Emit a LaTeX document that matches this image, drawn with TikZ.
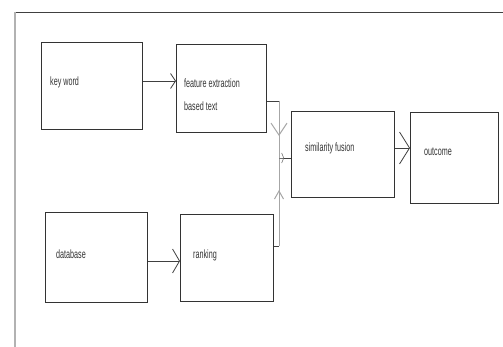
\documentclass[tikz,border=0pt]{standalone}
\usepackage{fontspec}
\setmainfont{Liberation Sans}[FakeStretch=0.6]
\usetikzlibrary{arrows.meta}
\begin{document}
\begin{tikzpicture}[x=1pt,y=-1pt,
  box/.style={draw=black!80, line width=0.8pt, inner sep=0pt, anchor=north west},
  lbl/.style={anchor=west, inner sep=0pt, text=black!80, font=\fontsize{12}{14}\selectfont},
  conn/.style={draw=black!75, line width=0.8pt},
  vbar/.style={draw=black!35, line width=1pt},
  barb/.style={draw=black!55, line width=0.6pt}]
\useasboundingbox (0,0) rectangle (503,347);
% frame
\draw[black!75, line width=0.8pt] (15,12) -- (503,12);
\draw[black!30, line width=1.2pt] (15,12) -- (15,347);
% boxes
\node[box, minimum width=101pt, minimum height=87pt] (kw) at (41,42) {};
\node[box, minimum width=90pt,  minimum height=88pt] (fe) at (176,44) {};
\node[box, minimum width=103pt, minimum height=86pt] (sf) at (291,111) {};
\node[box, minimum width=88pt,  minimum height=91pt] (oc) at (410,112) {};
\node[box, minimum width=102pt, minimum height=90pt] (db) at (45,212) {};
\node[box, minimum width=93pt,  minimum height=87pt] (rk) at (180,214) {};
% labels
\node[lbl] (kwt) at (50,82) {key word};
\node[lbl] (fet1) at (184,83) {feature extraction};
\node[lbl] (fet2) at (184,106) {based text};
\node[lbl] (sft) at (305,148) {similarity fusion};
\node[lbl] (oct) at (424,152) {outcome};
\node[lbl] (dbt) at (56,254) {database};
\node[lbl] (rkt) at (193,255) {ranking};
% connectors
\draw[conn, -{Straight Barb[length=5pt,width=15pt]}] ([yshift=-39pt]kw.north east) -- ([yshift=-37pt]fe.north west);
\draw[conn, -{Straight Barb[length=7pt,width=24pt]}] ([yshift=-49pt]db.north east) -- ([yshift=-47pt]rk.north west);
\coordinate (tA) at (279,101);
\coordinate (tB) at (279,246);
\coordinate (j) at (279,158);
\coordinate (dA) at (279,136);
\coordinate (uA) at (279,190);
\coordinate (jA) at (284,158);
\coordinate (sfo) at ([yshift=-37pt]sf.north east);
\draw[vbar] (tA) -- (tB);
\draw[conn] ([yshift=-57pt]fe.north east) -- (tA);
\draw[conn] ([yshift=-32pt]rk.north east) -- (tB);
\draw[vbar, -{Straight Barb[length=12pt,width=16pt]}] (tA) -- (dA);
\draw[vbar, -{Straight Barb[length=8pt,width=9pt]}] (tB) -- (uA);
\draw[conn] (j) -- (sf.west |- j);
\draw[barb, -{Straight Barb[length=2pt,width=10pt]}] (j) -- (jA);
\draw[conn, -{Straight Barb[length=10pt,width=32pt]}] (sfo) -- (oc.west |- sfo);
\end{tikzpicture}
\end{document}
